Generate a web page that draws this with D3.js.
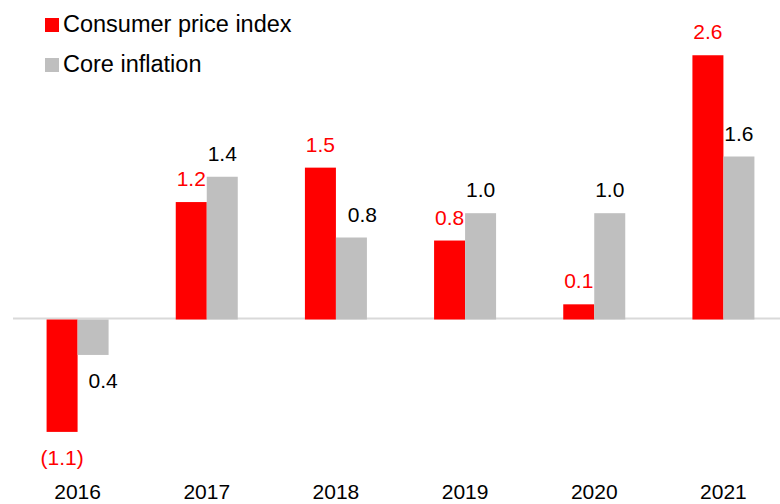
<!DOCTYPE html>
<html>
<head>
<meta charset="utf-8">
<script src="https://cdn.jsdelivr.net/npm/d3@7"></script>
<style>
  body { margin: 0; background: #fff; }
  svg { display: block; font-family: "Liberation Sans", Arial, sans-serif; }
</style>
</head>
<body>
<svg id="chart" width="780" height="504"></svg>
<script>
var years = ["2016", "2017", "2018", "2019", "2020", "2021"];
var seriesNames = ["Consumer price index", "Core inflation"];
var cpi = [-1.12, 1.15, 1.49, 0.77, 0.14, 2.6];
var core = [-0.36, 1.4, 0.8, 1.04, 1.04, 1.6];
var cpiLabels = ["(1.1)", "1.2", "1.5", "0.8", "0.1", "2.6"];
var coreLabels = ["0.4", "1.4", "0.8", "1.0", "1.0", "1.6"];

var colors = ["#ff0000", "#bfbfbf"];
var labelColors = ["#ff0000", "#000000"];

var svg = d3.select("#chart");

var x0 = d3.scaleBand().domain(years).range([13, 788]).paddingInner(0.52).paddingOuter(0.26);
var x1 = d3.scaleBand().domain(seriesNames).range([0, x0.bandwidth()]);
var y = d3.scaleLinear().domain([-1.2, 2.8]).range([440, 35]);

// zero line
svg.append("line")
  .attr("x1", 13).attr("x2", 780)
  .attr("y1", y(0)).attr("y2", y(0))
  .attr("stroke", "#d9d9d9").attr("stroke-width", 2);

var rows = [];
years.forEach(function(yr, i) {
  rows.push({ year: yr, s: 0, v: cpi[i], label: cpiLabels[i] });
  rows.push({ year: yr, s: 1, v: core[i], label: coreLabels[i] });
});

svg.selectAll("rect.bar")
  .data(rows)
  .enter()
  .append("rect")
  .attr("class", "bar")
  .attr("x", function(d) { return x0(d.year) + x1(seriesNames[d.s]); })
  .attr("width", x1.bandwidth())
  .attr("y", function(d) { return Math.min(y(0) + 1, y(d.v)); })
  .attr("height", function(d) { return Math.abs(y(d.v) - y(0) - 1); })
  .attr("fill", function(d) { return colors[d.s]; });

// a couple of labels were nudged right in the original
var nudge = { "2016-1": 10, "2018-1": 11 };

svg.selectAll("text.val")
  .data(rows)
  .enter()
  .append("text")
  .attr("class", "val")
  .attr("x", function(d) {
    return x0(d.year) + x1(seriesNames[d.s]) + x1.bandwidth() / 2 + (nudge[d.year + "-" + d.s] || 0);
  })
  .attr("y", function(d) { return d.v >= 0 ? y(d.v) - 16 : y(d.v) + 33; })
  .attr("text-anchor", "middle")
  .attr("font-size", 21)
  .attr("fill", function(d) { return labelColors[d.s]; })
  .text(function(d) { return d.label; });

// year labels
svg.selectAll("text.year")
  .data(years)
  .enter()
  .append("text")
  .attr("class", "year")
  .attr("x", function(d) { return x0(d) + x0.bandwidth() / 2; })
  .attr("y", 499)
  .attr("text-anchor", "middle")
  .attr("font-size", 21)
  .attr("fill", "#000")
  .text(function(d) { return d; });

// legend
var legend = svg.selectAll("g.legend")
  .data(seriesNames)
  .enter()
  .append("g")
  .attr("class", "legend")
  .attr("transform", function(d, i) { return "translate(45," + (18 + i * 40) + ")"; });

legend.append("rect")
  .attr("width", 14).attr("height", 14)
  .attr("fill", function(d, i) { return colors[i]; });

legend.append("text")
  .attr("x", 18)
  .attr("y", 14)
  .attr("font-size", 23.5)
  .attr("fill", "#000")
  .text(function(d) { return d; });
</script>
</body>
</html>
